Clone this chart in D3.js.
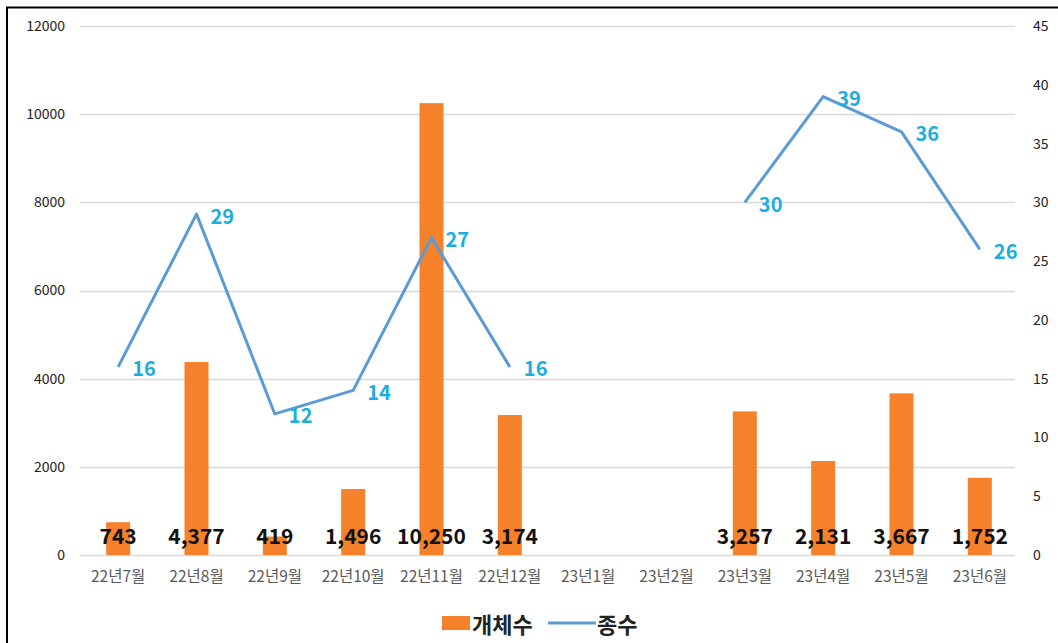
<!DOCTYPE html>
<html><head><meta charset="utf-8">
<script src="https://cdn.jsdelivr.net/npm/d3@7"></script>
<style>body{margin:0;background:#fff;}svg{display:block;}</style>
</head><body>
<svg id="chart" width="1058" height="643"></svg>
<script>
const categories = ["22년7월","22년8월","22년9월","22년10월","22년11월","22년12월","23년1월","23년2월","23년3월","23년4월","23년5월","23년6월"];
const countValues = [743, 4377, 419, 1496, 10250, 3174, null, null, 3257, 2131, 3667, 1752];
const speciesValues = [16, 29, 12, 14, 27, 16, null, null, 30, 39, 36, 26];
const leftTicks = [0, 2000, 4000, 6000, 8000, 10000, 12000];
const rightTicks = [0, 5, 10, 15, 20, 25, 30, 35, 40, 45];
const legendLabels = ["개체수", "종수"];

const svg = d3.select("#chart");
const font = "'Noto Sans CJK KR', 'Noto Sans', sans-serif";
const m = {left: 79, right: 1019, top: 26, bottom: 555};

svg.append("rect").attr("x", 7).attr("y", 7.5).attr("width", 1060).attr("height", 700)
  .attr("fill", "#fff").attr("stroke", "#000").attr("stroke-width", 2);

const x = d3.scaleBand().domain(categories).range([m.left, m.right]).paddingInner(0).paddingOuter(0);
const yL = d3.scaleLinear().domain([0, 12000]).range([m.bottom, m.top]);
const yR = d3.scaleLinear().domain([0, 45]).range([m.bottom, m.top]);
const cx = d => x(d) + x.bandwidth() / 2;

// gridlines
svg.append("g").selectAll("line").data(leftTicks).join("line")
  .attr("x1", m.left + 1).attr("x2", m.right - 4)
  .attr("y1", d => Math.round(yL(d)) + 0.5).attr("y2", d => Math.round(yL(d)) + 0.5)
  .attr("stroke", "#d9d9d9").attr("stroke-width", 1.5);

// left axis
const axL = d3.axisLeft(yL).tickValues(leftTicks).tickFormat(d3.format("d")).tickSize(0).tickPadding(0);
const gL = svg.append("g").attr("transform", `translate(65,0)`).call(axL);
gL.select(".domain").remove();
gL.selectAll("text").attr("font-family", font).attr("font-size", 14).attr("fill", "#222");

// right axis
const axR = d3.axisRight(yR).tickValues(rightTicks).tickFormat(d3.format("d")).tickSize(0).tickPadding(0);
const gR = svg.append("g").attr("transform", `translate(1033,0)`).call(axR);
gR.select(".domain").remove();
gR.selectAll("text").attr("font-family", font).attr("font-size", 14).attr("fill", "#222");

// x axis labels
const axX = d3.axisBottom(x).tickSize(0).tickPadding(0);
const gX = svg.append("g").attr("transform", `translate(0,571)`).call(axX);
gX.select(".domain").remove();
gX.selectAll("text").attr("font-family", font).attr("font-size", 15.5).attr("fill", "#595959");

// bars
const barW = 24;
const barData = categories.map((c, i) => ({c, v: countValues[i]})).filter(d => d.v != null);
svg.append("g").selectAll("rect").data(barData).join("rect")
  .attr("x", d => cx(d.c) - barW / 2).attr("width", barW)
  .attr("y", d => yL(d.v)).attr("height", d => yL(0) - yL(d.v))
  .attr("fill", "#f5822a");

// line
const lineData = categories.map((c, i) => ({c, v: speciesValues[i]}));
const line = d3.line().defined(d => d.v != null).x(d => cx(d.c)).y(d => yR(d.v));
svg.append("path").datum(lineData).attr("d", line)
  .attr("fill", "none").attr("stroke", "#5b9bd5").attr("stroke-width", 3).attr("stroke-linejoin", "round");

// bar labels
const fmt = d3.format(",");
svg.append("g").selectAll("text").data(barData).join("text")
  .attr("x", d => cx(d.c)).attr("y", 535).attr("text-anchor", "middle").attr("dominant-baseline", "central")
  .attr("font-family", font).attr("font-weight", "bold").attr("font-size", 21).attr("fill", "#111")
  .text(d => fmt(d.v));

// line labels
svg.append("g").selectAll("text").data(lineData.filter(d => d.v != null)).join("text")
  .attr("x", d => cx(d.c) + 14).attr("y", d => yR(d.v) + 1).attr("dominant-baseline", "central")
  .attr("font-family", font).attr("font-weight", "bold").attr("font-size", 20).attr("fill", "#1aaee0")
  .text(d => d.v);

// legend
const lg = svg.append("g");
lg.append("rect").attr("x", 442).attr("y", 616).attr("width", 28).attr("height", 14).attr("fill", "#f5822a");
lg.append("text").attr("x", 472).attr("y", 623).attr("dominant-baseline", "central")
  .attr("font-family", font).attr("font-weight", "bold").attr("font-size", 22).attr("fill", "#222").text(legendLabels[0]);
lg.append("line").attr("x1", 548).attr("x2", 596).attr("y1", 623).attr("y2", 623)
  .attr("stroke", "#5b9bd5").attr("stroke-width", 3);
lg.append("text").attr("x", 597).attr("y", 623).attr("dominant-baseline", "central")
  .attr("font-family", font).attr("font-weight", "bold").attr("font-size", 22).attr("fill", "#222").text(legendLabels[1]);
</script>
</body></html>
